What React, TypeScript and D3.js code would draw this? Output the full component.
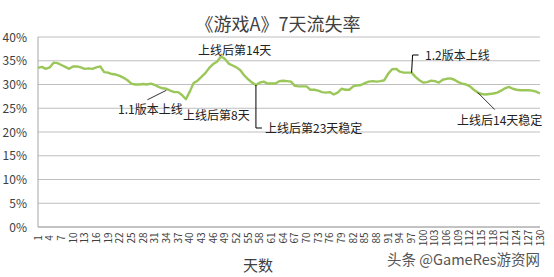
import React from "react";
import * as d3 from "d3";

const title = "《游戏A》7天流失率";
const xTitle = "天数";
const watermark = "头条 @GameRes游资网";

const days: number[] = Array.from({ length: 130 }, (_, i) => i + 1);

const churn: number[] = [
  33.5, 33.7, 33.3, 33.6, 34.6, 34.5, 34.1, 33.7, 33.3, 33.8,
  33.8, 33.6, 33.3, 33.4, 33.3, 33.6, 33.8, 32.6, 32.5, 32.2,
  32.1, 31.8, 31.4, 30.9, 30.2, 30.0, 30.0, 30.1, 30.0, 30.2,
  29.9, 29.5, 29.2, 29.1, 28.7, 28.4, 28.4, 27.8, 26.9, 28.5,
  30.3, 30.8, 31.6, 32.4, 33.5, 34.3, 34.8, 35.9, 35.4, 34.4,
  34.0, 33.6, 33.0, 31.9, 31.1, 30.4, 29.9, 30.4, 30.6, 30.2,
  30.2, 30.2, 30.7, 30.8, 30.7, 30.6, 29.7, 29.6, 29.6, 29.6,
  28.9, 28.9, 28.7, 28.4, 28.3, 28.4, 27.9, 28.3, 29.1, 28.9,
  28.9, 29.6, 29.8, 29.9, 30.3, 30.6, 30.7, 30.6, 30.7, 30.9,
  32.3, 33.2, 33.3, 32.7, 32.5, 32.5, 32.5, 31.6, 30.9, 30.4,
  30.5, 30.8, 30.7, 30.4, 31.0, 31.2, 31.3, 31.0, 30.5, 30.2,
  30.0, 29.6, 28.9, 28.3, 28.0, 27.9, 28.0, 28.1, 28.3, 28.7,
  29.2, 29.5, 29.1, 28.9, 28.8, 28.8, 28.8, 28.7, 28.5, 28.1,
];

const yTicks: number[] = [0, 5, 10, 15, 20, 25, 30, 35, 40];
const xTickDays: number[] = days.filter((d) => (d - 1) % 3 === 0);

const annotationLabels: string[] = [
  "1.1版本上线",
  "上线后第8天",
  "上线后第14天",
  "上线后第23天稳定",
  "1.2版本上线",
  "上线后14天稳定",
];
const annotationDays: number[] = [34, 42, 48, 57, 97, 114];

const W = 554;
const H = 277;
const left = 38;
const right = 540;
const top = 37;
const bottom = 227;
const FONT = "'Noto Sans CJK SC', 'Noto Sans', sans-serif";

export default function App() {
  const x = d3.scalePoint<number>().domain(days).range([left, right]).padding(0);
  const y = d3.scaleLinear().domain([0, 40]).range([bottom, top]);
  const line = d3
    .line<number>()
    .x((_, i) => x(days[i]) as number)
    .y((v) => y(v))
    .curve(d3.curveLinear);

  const px = (d: number) => x(d) as number;
  const py = (d: number) => y(churn[d - 1]);

  const a1x = px(annotationDays[0]);
  const a1y = py(annotationDays[0]);
  const a4x = px(annotationDays[3]);
  const a4y = py(annotationDays[3]);
  const a5x = px(annotationDays[4]);
  const a5y = py(annotationDays[4]);
  const a6x = px(annotationDays[5]);
  const a6y = py(annotationDays[5]);

  return (
    <svg width={W} height={H} style={{ position: "absolute", left: 0, top: 0, background: "#fff" }}>
      <rect x={0} y={0} width={W} height={H} fill="#fff" />
      <text x={278} y={31} textAnchor="middle" fontSize={18} fill="#404040" fontFamily={FONT}>
        {title}
      </text>
      {yTicks.map((t) => (
        <g key={t}>
          <line x1={left} x2={right} y1={y(t)} y2={y(t)} stroke="#bfbfbf" strokeWidth={1} />
          <text x={27} y={y(t) + 4.5} textAnchor="end" fontSize={12} fill="#404040" fontFamily={FONT}>
            {t}%
          </text>
        </g>
      ))}
      <line x1={left} x2={left} y1={top} y2={bottom} stroke="#a6a6a6" strokeWidth={1} />
      <line x1={left} x2={right} y1={bottom} y2={bottom} stroke="#a6a6a6" strokeWidth={1} />
      {xTickDays.map((d) => (
        <text
          key={d}
          transform={`translate(${px(d) + 3.5},238) rotate(-90)`}
          textAnchor="middle"
          fontSize={10}
          fill="#404040"
          fontFamily={FONT}
        >
          {d}
        </text>
      ))}
      <path d={line(churn) || ""} fill="none" stroke="#9bc75a" strokeWidth={2.4} strokeLinejoin="round" />

      {/* annotations */}
      <line x1={a1x} y1={a1y + 1.5} x2={a1x - 19} y2={a1y + 11} stroke="#000" strokeWidth={0.8} />
      <text x={118} y={114} fontSize={12} fill="#222" fontFamily={FONT}>{annotationLabels[0]}</text>
      <text x={183} y={120} fontSize={12} fill="#222" fontFamily={FONT}>{annotationLabels[1]}</text>
      <text x={198} y={55} fontSize={12} fill="#222" fontFamily={FONT}>{annotationLabels[2]}</text>
      <polyline
        points={`${a4x},${a4y} ${a4x},128 ${a4x + 6},128`}
        fill="none"
        stroke="#000"
        strokeWidth={1}
      />
      <text x={265} y={133} fontSize={12} fill="#222" fontFamily={FONT}>{annotationLabels[3]}</text>
      <polyline
        points={`${a5x},${a5y} ${a5x + 1},55 ${a5x + 7},55`}
        fill="none"
        stroke="#000"
        strokeWidth={1}
      />
      <text x={425} y={60} fontSize={12} fill="#222" fontFamily={FONT}>{annotationLabels[4]}</text>
      <line x1={a6x} y1={a6y} x2={a6x + 17} y2={a6y + 17} stroke="#000" strokeWidth={0.8} />
      <text x={457} y={125} fontSize={12} fill="#222" fontFamily={FONT}>{annotationLabels[5]}</text>

      <text x={258} y={271} textAnchor="middle" fontSize={15} fill="#404040" fontFamily={FONT}>
        {xTitle}
      </text>
      <text x={540} y={265} textAnchor="end" fontSize={14.5} fill="#555" fontFamily={FONT}>
        {watermark}
      </text>
    </svg>
  );
}
